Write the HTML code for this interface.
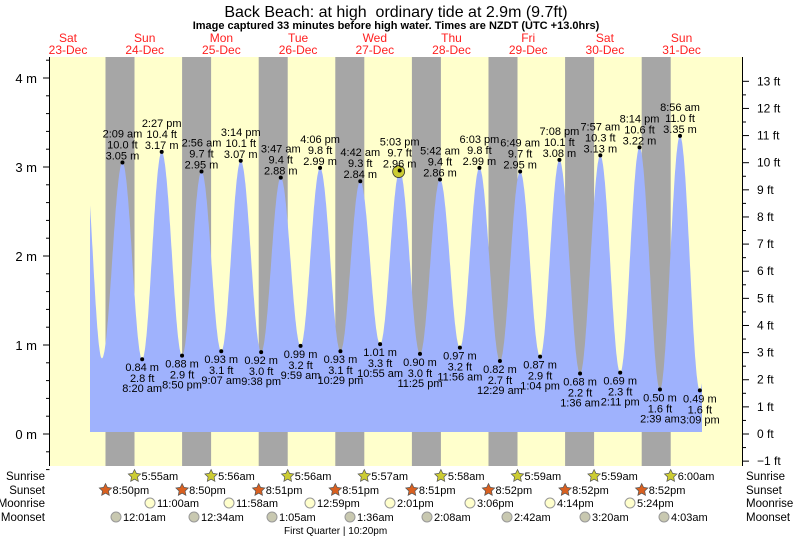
<!DOCTYPE html>
<html><head><meta charset="utf-8"><style>
body{margin:0;background:#fff;}
svg{display:block;font-family:"Liberation Sans",sans-serif;}
</style></head><body>
<svg id="s" width="793" height="539" viewBox="0 0 793 539" xmlns="http://www.w3.org/2000/svg">
<rect x="0" y="0" width="793" height="539" fill="#fff"/>
<rect x="50" y="57" width="692" height="409" fill="#ffffcc"/>
<g id="bands" fill="#a6a6a6"></g>
<path id="tide" fill="#9fb2fd" d=""/>
<g id="ax" stroke="#000" stroke-width="1"></g>
<g id="txt" font-size="11" fill="#000"></g>
<text x="396" y="17" font-size="16" text-anchor="middle" style="white-space:pre">Back Beach: at high  ordinary tide at 2.9m (9.7ft)</text>
<text x="396" y="29" font-size="11" font-weight="bold" text-anchor="middle">Image captured 33 minutes before high water. Times are NZDT (UTC +13.0hrs)</text>
</svg>
<script>
var NS="http://www.w3.org/2000/svg",s=document.getElementById('s');
function el(p,t,a,tx){var e=document.createElementNS(NS,t);for(var k in a)e.setAttribute(k,a[k]);if(tx!==undefined)e.textContent=tx;p.appendChild(e);return e;}
var bands=document.getElementById('bands'),ax=document.getElementById('ax'),T=document.getElementById('txt');
var per=76.6;
for(var i=0;i<8;i++){el(bands,'rect',{x:105.5+i*per,y:57,width:29,height:409});}
var x0=115.6,ph=3.19;function X(h){return x0+h*ph;}function Y(m){return 434-m*89;}
var ev=[[-10.0,3.2],[-4.3,0.85],[2.15,3.05],[8.33,0.84],[14.45,3.17],[20.83,0.88],[26.93,2.95],[33.12,0.93],[39.23,3.07],[45.63,0.92],[51.78,2.88],[57.98,0.99],[64.1,2.99],[70.48,0.93],[76.7,2.84],[82.92,1.01],[89.05,2.96],[95.42,0.90],[101.7,2.86],[107.93,0.97],[114.05,2.99],[120.48,0.82],[126.82,2.95],[133.07,0.87],[139.13,3.08],[145.6,0.68],[151.95,3.13],[158.18,0.69],[164.23,3.22],[170.65,0.50],[176.93,3.35],[183.15,0.49],[189.4,3.3]];
function val(h){for(var i=0;i<ev.length-1;i++){var a=ev[i],b=ev[i+1];if(h>=a[0]&&h<=b[0]){var f=(h-a[0])/(b[0]-a[0]);return a[1]+(b[1]-a[1])*(1-Math.cos(Math.PI*f))/2;}}return 0;}
var h0=(90-x0)/ph,h1=(702-x0)/ph,d="M90,432";
for(var h=h0;h<=h1;h+=0.1){d+="L"+X(h).toFixed(1)+","+Y(val(h)).toFixed(1);}
d+="L"+X(h1).toFixed(1)+","+Y(val(h1)).toFixed(1)+"L702,432Z";
document.getElementById('tide').setAttribute('d',d);
el(ax,'line',{x1:49.5,y1:57,x2:49.5,y2:466});el(ax,'line',{x1:742.5,y1:57,x2:742.5,y2:466});
for(var m=-0.4;m<=4.21;m+=0.2){var y=Y(m),maj=Math.abs(m-Math.round(m))<0.01;el(ax,'line',{x1:maj?43:46,y1:y,x2:49.5,y2:y});
if(maj){el(T,'text',{x:37,y:y+5,'font-size':13,'text-anchor':'end'},Math.round(m)+' m');}}
for(var f=-1;f<=13.01;f+=0.5){var y=434-f*27.13,maj=Math.abs(f-Math.round(f))<0.01;el(ax,'line',{x1:742.5,y1:y,x2:maj?749:746,y2:y});
if(maj){el(T,'text',{x:757,y:y+4,'font-size':12},(f<0?'\u22121':Math.round(f))+' ft');}}
var days=[['Sat','23-Dec'],['Sun','24-Dec'],['Mon','25-Dec'],['Tue','26-Dec'],['Wed','27-Dec'],['Thu','28-Dec'],['Fri','29-Dec'],['Sat','30-Dec'],['Sun','31-Dec']];
for(var i=0;i<9;i++){var cx=68+i*76.7;el(T,'text',{x:cx,y:42,'font-size':12,fill:'#ff2020','text-anchor':'middle'},days[i][0]);el(T,'text',{x:cx,y:54,'font-size':12,fill:'#ff2020','text-anchor':'middle'},days[i][1]);}
var lab=[[2.15,3.05,'2:09 am','10.0 ft'],[8.33,0.84,'8:20 am','2.8 ft'],[14.45,3.17,'2:27 pm','10.4 ft'],[20.83,0.88,'8:50 pm','2.9 ft'],[26.93,2.95,'2:56 am','9.7 ft'],[33.12,0.93,'9:07 am','3.1 ft'],[39.23,3.07,'3:14 pm','10.1 ft'],[45.63,0.92,'9:38 pm','3.0 ft'],[51.78,2.88,'3:47 am','9.4 ft'],[57.98,0.99,'9:59 am','3.2 ft'],[64.1,2.99,'4:06 pm','9.8 ft'],[70.48,0.93,'10:29 pm','3.1 ft'],[76.7,2.84,'4:42 am','9.3 ft'],[82.92,1.01,'10:55 am','3.3 ft'],[89.05,2.96,'5:03 pm','9.7 ft'],[95.42,0.90,'11:25 pm','3.0 ft'],[101.7,2.86,'5:42 am','9.4 ft'],[107.93,0.97,'11:56 am','3.2 ft'],[114.05,2.99,'6:03 pm','9.8 ft'],[120.48,0.82,'12:29 am','2.7 ft'],[126.82,2.95,'6:49 am','9.7 ft'],[133.07,0.87,'1:04 pm','2.9 ft'],[139.13,3.08,'7:08 pm','10.1 ft'],[145.6,0.68,'1:36 am','2.2 ft'],[151.95,3.13,'7:57 am','10.3 ft'],[158.18,0.69,'2:11 pm','2.3 ft'],[164.23,3.22,'8:14 pm','10.6 ft'],[170.65,0.50,'2:39 am','1.6 ft'],[176.93,3.35,'8:56 am','11.0 ft'],[183.15,0.49,'3:09 pm','1.6 ft']];
lab.forEach(function(l,i){var x=X(l[0]),y=Y(l[1]),hi=l[1]>2;
if(hi&&Math.abs(l[0]-89.05)<0.01){el(T,'circle',{cx:x-1,cy:y+1,r:6,fill:'#cccc33',stroke:'#333','stroke-width':0.8});}
el(T,'circle',{cx:x,cy:y,r:2,fill:'#000'});
var mt=l[1].toFixed(2)+' m';
if(hi){el(T,'text',{x:x,y:y-3,'text-anchor':'middle'},mt);el(T,'text',{x:x,y:y-14,'text-anchor':'middle'},l[3]);el(T,'text',{x:x,y:y-25,'text-anchor':'middle'},l[2]);}
else{el(T,'text',{x:x,y:y+12,'text-anchor':'middle'},mt);el(T,'text',{x:x,y:y+23,'text-anchor':'middle'},l[3]);el(T,'text',{x:x,y:y+33,'text-anchor':'middle'},l[2]);}
});
var rows=[['Sunrise',480],['Sunset',494],['Moonrise',507],['Moonset',521]];
rows.forEach(function(r){el(T,'text',{x:45,y:r[1],'font-size':11.5,'text-anchor':'end'},r[0]);el(T,'text',{x:746,y:r[1],'font-size':11.5},r[0]);});
function star(cx,cy,fill){var p="";for(var k=0;k<10;k++){var a=-Math.PI/2+k*Math.PI/5,rr=k%2?3.2:6.5;p+=(cx+rr*Math.cos(a)).toFixed(1)+","+(cy+rr*Math.sin(a)).toFixed(1)+" ";}el(T,'polygon',{points:p,fill:fill,stroke:'#555','stroke-width':0.7});}
var sr=['5:55am','5:56am','5:56am','5:57am','5:58am','5:59am','5:59am','6:00am'];
var ss=['8:50pm','8:50pm','8:51pm','8:51pm','8:51pm','8:52pm','8:52pm','8:52pm'];
for(var i=0;i<8;i++){var xr=134.5+i*per;star(xr,476,'#cccc33');el(T,'text',{x:xr+7,y:480,'font-size':11},sr[i]);
var xs=105.5+i*per;star(xs,490,'#d96020');el(T,'text',{x:xs+7,y:494,'font-size':11},ss[i]);}
var mr=[[150,'11:00am'],[229,'11:58am'],[310,'12:59pm'],[390,'2:01pm'],[470,'3:06pm'],[550,'4:14pm'],[630,'5:24pm']];
mr.forEach(function(m){el(T,'circle',{cx:m[0],cy:503,r:5,fill:'#ffffcc',stroke:'#999'});el(T,'text',{x:m[0]+7,y:507,'font-size':11},m[1]);});
var ms=[[116,'12:01am'],[194,'12:34am'],[272,'1:05am'],[350,'1:36am'],[427,'2:08am'],[507,'2:42am'],[585,'3:20am'],[664,'4:03am']];
ms.forEach(function(m){el(T,'circle',{cx:m[0],cy:517,r:5,fill:'#c8c8b0',stroke:'#999'});el(T,'text',{x:m[0]+7,y:521,'font-size':11},m[1]);});
el(T,'text',{x:284,y:534,'font-size':10},'First Quarter | 10:20pm');
</script>
</body></html>
